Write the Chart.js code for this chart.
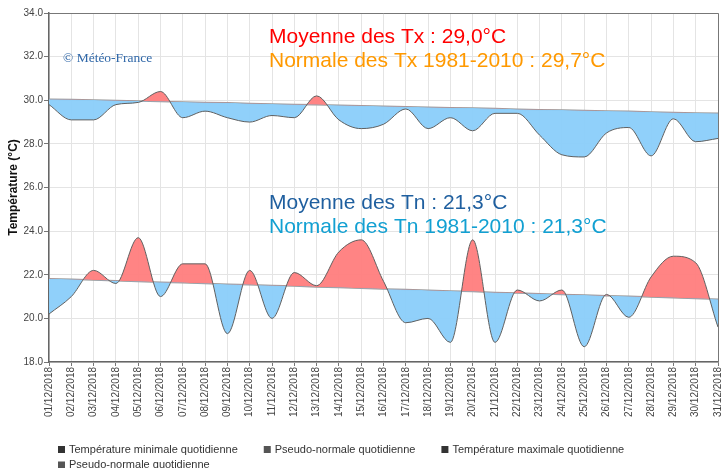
<!DOCTYPE html>
<html><head><meta charset="utf-8">
<script src="https://cdn.jsdelivr.net/npm/chart.js@4"></script>
<style>html,body{margin:0;padding:0;background:#fff}canvas{display:block}</style>
</head><body>
<canvas id="c" width="722" height="468"></canvas>
<script>
const categories = ['01/12/2018','02/12/2018','03/12/2018','04/12/2018','05/12/2018','06/12/2018','07/12/2018','08/12/2018','09/12/2018','10/12/2018','11/12/2018','12/12/2018','13/12/2018','14/12/2018','15/12/2018','16/12/2018','17/12/2018','18/12/2018','19/12/2018','20/12/2018','21/12/2018','22/12/2018','23/12/2018','24/12/2018','25/12/2018','26/12/2018','27/12/2018','28/12/2018','29/12/2018','30/12/2018','31/12/2018'];
const tnValues = [20.2,21.0,22.2,21.6,23.7,21.0,22.5,22.5,19.3,22.2,20.0,22.1,21.5,23.05,23.6,21.7,19.8,20.0,18.9,23.6,18.9,21.3,20.8,21.3,18.7,21.1,20.05,21.9,22.85,22.55,19.6];
const tnNormal = [21.82,21.79,21.76,21.73,21.69,21.66,21.63,21.60,21.57,21.54,21.51,21.48,21.44,21.41,21.38,21.35,21.32,21.29,21.26,21.23,21.19,21.16,21.13,21.10,21.07,21.04,21.01,20.98,20.94,20.91,20.88];
const txValues = [29.8,29.1,29.1,29.8,29.9,30.4,29.2,29.5,29.2,29.0,29.3,29.2,30.2,29.1,28.7,28.9,29.6,28.7,29.2,28.6,29.4,29.4,28.4,27.5,27.4,28.5,28.75,27.45,29.15,28.1,28.25];
const txNormal = [30.05,30.03,30.01,29.99,29.96,29.94,29.92,29.90,29.88,29.85,29.83,29.81,29.79,29.77,29.75,29.72,29.70,29.68,29.66,29.64,29.62,29.59,29.57,29.55,29.53,29.51,29.49,29.46,29.44,29.42,29.40];
const yTicks = [18,20,22,24,26,28,30,32,34];
const legendLabels = ['Température minimale quotidienne','Pseudo-normale quotidienne','Température maximale quotidienne','Pseudo-normale quotidienne'];
const legendColors = ['#333333','#555555','#333333','#555555'];
const annotations = [
  {text:'Moyenne des Tx : 29,0°C', color:'#ff0000'},
  {text:'Normale des Tx 1981-2010 : 29,7°C', color:'#ff9900'},
  {text:'Moyenne des Tn : 21,3°C', color:'#1f5f9f'},
  {text:'Normale des Tn 1981-2010 : 21,3°C', color:'#12a0d2'}
];
const FONT = "'Liberation Sans', Arial, sans-serif";
const RED = 'rgba(255,125,125,0.95)';
const BLUE = 'rgba(138,206,250,0.95)';

const overlay = {
  id: 'overlay',
  afterDraw(chart) {
    const ctx = chart.ctx, a = chart.chartArea;
    ctx.save();
    ctx.strokeStyle = '#777';
    ctx.lineWidth = 1;
    ctx.beginPath();
    ctx.moveTo(a.left, a.top + 0.5); ctx.lineTo(a.right + 0.5, a.top + 0.5); ctx.lineTo(a.right + 0.5, a.bottom);
    ctx.stroke();
    ctx.textBaseline = 'alphabetic';
    ctx.textAlign = 'left';
    ctx.font = '21px ' + FONT;
    const ys = [43, 67, 209, 233];
    annotations.forEach((t, i) => { ctx.fillStyle = t.color; ctx.fillText(t.text, 269, ys[i]); });
    ctx.font = "13.5px 'Liberation Serif', 'Times New Roman', serif";
    ctx.fillStyle = '#2f67a8';
    ctx.fillText('© Météo-France', 63, 62);
    ctx.font = '11px ' + FONT;
    ctx.textBaseline = 'middle';
    let x = 58, row = 0;
    const rowY = [449.5, 465];
    legendLabels.forEach((lab, i) => {
      const w = 12 + ctx.measureText(lab).width;
      if (x + w > 700) { row++; x = 58; }
      ctx.fillStyle = legendColors[i];
      ctx.fillRect(x, rowY[row] - 3.5, 7, 7);
      ctx.fillStyle = '#333';
      ctx.fillText(lab, x + 11, rowY[row]);
      x += w + 25;
    });
    ctx.restore();
  }
};

new Chart(document.getElementById('c'), {
  type: 'line',
  data: {
    labels: categories,
    datasets: [
      {label: legendLabels[0], data: tnValues, borderColor: '#606060', borderWidth: 1, pointRadius: 0, cubicInterpolationMode: 'monotone', fill: {target: 1, above: RED, below: BLUE}},
      {label: legendLabels[1], data: tnNormal, borderColor: '#9a9a9a', borderWidth: 1.5, pointRadius: 0, fill: false},
      {label: legendLabels[2], data: txValues, borderColor: '#606060', borderWidth: 1, pointRadius: 0, cubicInterpolationMode: 'monotone', fill: {target: 3, above: RED, below: BLUE}},
      {label: legendLabels[3], data: txNormal, borderColor: '#9a9a9a', borderWidth: 1.5, pointRadius: 0, fill: false}
    ]
  },
  options: {
    responsive: false,
    animation: false,
    layout: {padding: {top: 13, right: 0, bottom: 0, left: 0}},
    plugins: {legend: {display: false}, tooltip: {enabled: false}},
    scales: {
      x: {
        grid: {color: '#e4e4e4', tickColor: '#777', tickLength: 4},
        border: {color: '#666', width: 1.5},
        ticks: {maxRotation: 90, minRotation: 90, autoSkip: false, color: '#444', font: {family: FONT, size: 10}, padding: 1},
        afterFit(s) { s.height = 106; s.paddingRight = 4; s.paddingLeft = 0; }
      },
      y: {
        min: 18, max: 34,
        afterBuildTicks(s) { s.ticks = yTicks.map(v => ({value: v})); },
        grid: {color: '#e4e4e4', tickColor: '#777', tickLength: 5},
        border: {color: '#666', width: 1.5},
        ticks: {color: '#444', font: {family: FONT, size: 10}, padding: 1, callback: v => Number(v).toFixed(1)},
        title: {display: true, text: 'Température (°C)', color: '#111', font: {family: FONT, size: 12, weight: 'bold'}, padding: {top: 6, bottom: 0}},
        afterFit(s) { s.width = 49; }
      }
    }
  },
  plugins: [overlay]
});
</script>
</body></html>
